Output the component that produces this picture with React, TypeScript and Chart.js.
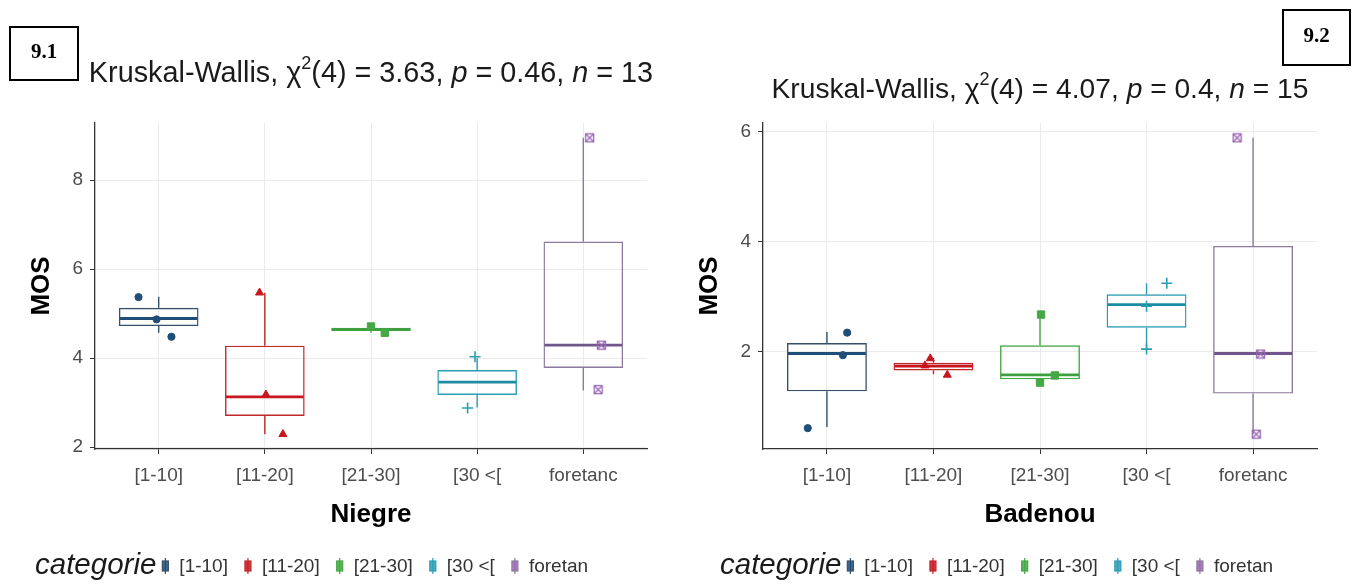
import React, { useEffect, useRef } from "react";
import { Chart, registerables } from "chart.js";

Chart.register(...registerables);

// ---------- data ----------
const categories = ["[1-10]", "[11-20]", "[21-30]", "[30 <[", "foretanc"];
const legendLabels = ["[1-10]", "[11-20]", "[21-30]", "[30 <[", "foretan"];

// Panel 9.1 : Niegre
const niegreMin = [4.57, 2.29, 4.57, 2.89, 3.27];
const niegreQ1 = [4.72, 2.7, 4.61, 3.17, 3.78];
const niegreMedian = [4.89, 3.13, 4.645, 3.46, 4.29];
const niegreQ3 = [5.13, 4.28, 4.68, 3.73, 6.62];
const niegreMax = [5.38, 5.47, 4.72, 4.0, 8.95];
const niegrePointX = [[-0.19, -0.02, 0.12], [0.95, 1.01, 1.17], [2.0, 2.13], [2.98, 2.91], [4.06, 4.17, 4.14]];
const niegrePointY = [[5.37, 4.87, 4.48], [5.47, 3.18, 2.29], [4.71, 4.57], [4.03, 2.88], [8.95, 4.29, 3.29]];
const niegreYTicks = [2, 4, 6, 8];
const niegreTest = ["4", "3.63", "0.46", "13"]; // df, chi2, p, n

// Panel 9.2 : Badenou
const badenouMin = [0.62, 1.58, 1.43, 2.04, 0.49];
const badenouQ1 = [1.27, 1.65, 1.49, 2.43, 1.23];
const badenouMedian = [1.96, 1.73, 1.57, 2.85, 1.96];
const badenouQ3 = [2.15, 1.79, 2.11, 3.04, 3.92];
const badenouMax = [2.35, 1.88, 2.67, 3.24, 5.89];
const badenouPointX = [[0.19, 0.15, -0.18], [0.97, 0.92, 1.13], [2.01, 2.14, 2.0], [3.19, 3.0, 3.0], [3.85, 4.07, 4.03]];
const badenouPointY = [[2.34, 1.93, 0.6], [1.87, 1.74, 1.57], [2.67, 1.56, 1.43], [3.24, 2.82, 2.04], [5.89, 1.95, 0.49]];
const badenouYTicks = [2, 4, 6];
const badenouTest = ["4", "4.07", "0.4", "15"];

// ---------- styles ----------
const FONT = '"Liberation Sans", Arial, Helvetica, sans-serif';
const pointColors = ["#1F4E79", "#C8161D", "#44A844", "#2A9DB2", "#9966B3"];
const boxEdge = ["#34506A", "#C0262C", "#44A844", "#2A9DB2", "#8A7A9C"];
const medianColors = ["#1F4E79", "#C8161D", "#3E9F3E", "#1D8CA3", "#70568A"];

function makeBoxCross(color: string) {
  const c = document.createElement("canvas");
  c.width = 11;
  c.height = 11;
  const g = c.getContext("2d")!;
  g.strokeStyle = color;
  g.lineWidth = 1.3;
  g.strokeRect(1.5, 1.5, 8, 8);
  g.beginPath();
  g.moveTo(2, 2);
  g.lineTo(9, 9);
  g.moveTo(9, 2);
  g.lineTo(2, 9);
  g.stroke();
  return c;
}

type PanelCfg = {
  min: number[]; q1: number[]; med: number[]; q3: number[]; max: number[];
  px: number[][]; py: number[][]; yTicks: number[]; test: string[];
  xTitle: string; tag: string;
  plotLeft: number; plotRight: number; mosX: number; titleBase: number; titleSize: number;
  tagBox: [number, number, number, number]; legendX: number;
};

function extent(cfg: PanelCfg) {
  const all = ([] as number[]).concat(...cfg.py, cfg.min, cfg.max);
  const lo = Math.min(...all), hi = Math.max(...all);
  const pad = (hi - lo) * 0.05;
  return [lo - pad, hi + pad];
}

const W = 681, H = 586, PLOT_TOP = 123, PLOT_BOTTOM = 449, AXIS_BOTTOM = 546;

function buildChart(canvas: HTMLCanvasElement, cfg: PanelCfg) {
  const [ymin, ymax] = extent(cfg);
  const shapes: any[] = ["circle", "triangle", "rect", "cross", makeBoxCross(pointColors[4])];
  const radii = [3.6, 4.6, 5.2, 5.5, 5];

  const overlay = {
    id: "boxOverlay",
    afterDatasetDraw(chart: any, args: any) {
      if (args.index !== 0) return;
      const ctx = chart.ctx;
      const xs = chart.scales.x, ys = chart.scales.y;
      const meta = chart.getDatasetMeta(0);
      ctx.save();
      categories.forEach((_, i) => {
        const x = xs.getPixelForValue(i);
        ctx.strokeStyle = boxEdge[i];
        ctx.lineWidth = 1.4;
        ctx.beginPath();
        ctx.moveTo(x, ys.getPixelForValue(cfg.q3[i]));
        ctx.lineTo(x, ys.getPixelForValue(cfg.max[i]));
        ctx.moveTo(x, ys.getPixelForValue(cfg.q1[i]));
        ctx.lineTo(x, ys.getPixelForValue(cfg.min[i]));
        ctx.stroke();
        const el = meta.data[i];
        const hw = el.width / 2;
        ctx.strokeStyle = medianColors[i];
        ctx.lineWidth = 2.8;
        const my = ys.getPixelForValue(cfg.med[i]);
        ctx.beginPath();
        ctx.moveTo(x - hw + 1, my);
        ctx.lineTo(x + hw - 1, my);
        ctx.stroke();
      });
      ctx.restore();
    },
    afterDraw(chart: any) {
      const ctx = chart.ctx;
      const area = chart.chartArea;
      ctx.save();
      // title (rich text)
      const base = `${cfg.titleSize}px ${FONT}`;
      const ital = `italic ${cfg.titleSize}px ${FONT}`;
      const sup = `18px ${FONT}`;
      const runs: [string, string, number][] = [
        ["Kruskal-Wallis, \u03C7", base, 0],
        ["2", sup, -13],
        [`(${cfg.test[0]}) = ${cfg.test[1]}, `, base, 0],
        ["p", ital, 0],
        [` = ${cfg.test[2]}, `, base, 0],
        ["n", ital, 0],
        [` = ${cfg.test[3]}`, base, 0],
      ];
      let total = 0;
      runs.forEach(([t, f]) => { ctx.font = f; total += ctx.measureText(t).width; });
      let tx = (area.left + area.right) / 2 - total / 2;
      ctx.fillStyle = "#1a1a1a";
      ctx.textBaseline = "alphabetic";
      ctx.textAlign = "left";
      runs.forEach(([t, f, dy]) => {
        ctx.font = f;
        ctx.fillText(t, tx, cfg.titleBase + dy);
        tx += ctx.measureText(t).width;
      });
      // tag box
      const [bx, by, bw, bh] = cfg.tagBox;
      ctx.strokeStyle = "#000";
      ctx.lineWidth = 2;
      ctx.strokeRect(bx, by, bw, bh);
      ctx.font = `bold 21px "Liberation Serif", "Times New Roman", serif`;
      ctx.fillStyle = "#000";
      ctx.textAlign = "center";
      ctx.textBaseline = "middle";
      ctx.fillText(cfg.tag, bx + bw / 2, by + bh / 2 - 1);
      // legend
      const ly = 566;
      ctx.textAlign = "left";
      ctx.textBaseline = "middle";
      ctx.font = `italic 29.5px ${FONT}`;
      ctx.fillStyle = "#1a1a1a";
      ctx.fillText("categorie", cfg.legendX, ly);
      let end = cfg.legendX + ctx.measureText("categorie").width;
      ctx.font = `19px ${FONT}`;
      legendLabels.forEach((lab, i) => {
        const kx = end + (i === 0 ? 9 : 20);
        ctx.strokeStyle = boxEdge[i];
        ctx.lineWidth = 1.2;
        ctx.beginPath();
        ctx.moveTo(kx, ly - 8);
        ctx.lineTo(kx, ly + 8);
        ctx.stroke();
        ctx.fillStyle = pointColors[i];
        ctx.globalAlpha = 0.85;
        ctx.fillRect(kx - 3, ly - 5, 6, 10);
        ctx.globalAlpha = 1;
        ctx.strokeRect(kx - 3, ly - 5, 6, 10);
        ctx.fillStyle = "#333";
        const tx2 = kx + 14;
        ctx.fillText(lab, tx2, ly + 1);
        end = tx2 + ctx.measureText(lab).width;
      });
      ctx.restore();
    },
  };

  const datasets: any[] = [
    {
      type: "bar",
      data: categories.map((_, i) => ({ x: i, y: [cfg.q1[i], cfg.q3[i]] })),
      backgroundColor: "rgba(255,255,255,0)",
      borderColor: boxEdge,
      borderWidth: 1.4,
      borderSkipped: false,
      barPercentage: 0.75,
      categoryPercentage: 1,
      order: 2,
    },
    ...categories.map((_, i) => ({
      type: "scatter",
      data: cfg.px[i].map((x, j) => ({ x, y: cfg.py[i][j] })),
      pointStyle: shapes[i],
      pointRadius: radii[i],
      backgroundColor: pointColors[i],
      borderColor: pointColors[i],
      borderWidth: i === 3 ? 1.6 : 1,
      order: 0,
    })),
  ];

  const tickFont = { family: FONT, size: 19 };
  return new Chart(canvas, {
    type: "bar",
    data: { datasets },
    options: {
      animation: false,
      responsive: false,
      maintainAspectRatio: false,
      events: [],
      layout: {
        padding: { left: 0, right: W - cfg.plotRight, top: PLOT_TOP, bottom: H - AXIS_BOTTOM },
      },
      plugins: { legend: { display: false }, tooltip: { enabled: false }, title: { display: false } },
      scales: {
        x: {
          type: "linear",
          min: -0.6,
          max: categories.length - 0.4,
          offset: false,
          afterBuildTicks: (s: any) => { s.ticks = categories.map((_, i) => ({ value: i })); },
          afterFit: (s: any) => { s.height = AXIS_BOTTOM - PLOT_BOTTOM; },
          ticks: {
            callback: (v: any) => categories[Math.round(v)],
            font: tickFont, color: "#4D4D4D", padding: 10, maxRotation: 0, autoSkip: false,
          },
          grid: { offset: false, color: "#EBEBEB", lineWidth: 1, tickColor: "#333", tickLength: 5 },
          border: { display: true, color: "#333", width: 1.3 },
          title: {
            display: true, text: cfg.xTitle, color: "#000",
            font: { family: FONT, size: 26, weight: "bold" },
            padding: { top: 0, bottom: 16 },
          },
        },
        y: {
          type: "linear",
          min: ymin,
          max: ymax,
          afterBuildTicks: (s: any) => { s.ticks = cfg.yTicks.map((v) => ({ value: v })); },
          afterFit: (s: any) => { s.width = cfg.plotLeft; },
          ticks: { font: tickFont, color: "#4D4D4D", padding: 7 },
          grid: { color: "#EBEBEB", lineWidth: 1, tickColor: "#333", tickLength: 5 },
          border: { display: true, color: "#333", width: 1.3 },
          title: {
            display: true, text: "MOS", color: "#000",
            font: { family: FONT, size: 26, weight: "bold" },
            padding: { top: cfg.mosX - 15.6, bottom: 0 },
          },
        },
      },
    } as any,
    plugins: [overlay],
  });
}

const niegreCfg: PanelCfg = {
  min: niegreMin, q1: niegreQ1, med: niegreMedian, q3: niegreQ3, max: niegreMax,
  px: niegrePointX, py: niegrePointY, yTicks: niegreYTicks, test: niegreTest,
  xTitle: "Niegre", tag: "9.1",
  plotLeft: 95, plotRight: 647, mosX: 42, titleBase: 82, titleSize: 28.8,
  tagBox: [10, 27, 68, 53], legendX: 35,
};

const badenouCfg: PanelCfg = {
  min: badenouMin, q1: badenouQ1, med: badenouMedian, q3: badenouQ3, max: badenouMax,
  px: badenouPointX, py: badenouPointY, yTicks: badenouYTicks, test: badenouTest,
  xTitle: "Badenou", tag: "9.2",
  plotLeft: 82, plotRight: 636, mosX: 29, titleBase: 98, titleSize: 28.2,
  tagBox: [602, 10, 67, 55], legendX: 39,
};

function Panel({ cfg, left }: { cfg: PanelCfg; left: number }) {
  const ref = useRef<HTMLCanvasElement>(null);
  useEffect(() => {
    const chart = buildChart(ref.current!, cfg);
    return () => chart.destroy();
  }, [cfg]);
  return (
    <canvas
      ref={ref}
      width={W}
      height={H}
      style={{ position: "absolute", left, top: 0, width: W, height: H, display: "block" }}
    />
  );
}

export default function App() {
  return (
    <div style={{ position: "fixed", left: 0, top: 0, width: 1362, height: 586, background: "#fff", overflow: "hidden" }}>
      <Panel cfg={niegreCfg} left={0} />
      <Panel cfg={badenouCfg} left={681} />
    </div>
  );
}
